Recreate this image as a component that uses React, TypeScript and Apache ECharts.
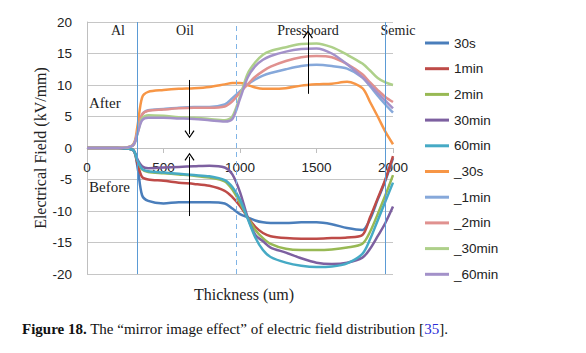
import React, { useEffect, useRef } from "react";
import * as echarts from "echarts";

const thickness = [0, 200, 300, 330, 360, 400, 500, 600, 700, 800, 900, 950, 1000, 1050, 1100, 1150, 1200, 1300, 1400, 1500, 1600, 1700, 1800, 1850, 1900, 1950, 2000];

const seriesNames = ["30s", "1min", "2min", "30min", "60min", "_30s", "_1min", "_2min", "_30min", "_60min"];

const before30s = [0, 0, -0.3, -3.0, -7.5, -8.4, -8.8, -8.6, -8.6, -8.6, -8.8, -9.6, -10.5, -11.0, -11.5, -11.8, -11.9, -11.9, -11.8, -11.8, -12.1, -12.7, -13.0, -11.3, -8.2, -5.2, -1.6];
const before1min = [0, 0, -0.3, -2.5, -4.6, -5.0, -5.2, -5.5, -5.7, -6.0, -6.8, -7.8, -9.2, -11.0, -12.5, -13.5, -14.0, -14.3, -14.4, -14.4, -14.3, -14.2, -13.8, -11.0, -8.0, -5.0, -1.3];
const before2min = [0, 0, -0.3, -2.0, -3.4, -3.8, -4.0, -4.2, -4.4, -4.7, -5.3, -6.6, -8.7, -11.0, -13.0, -14.3, -15.2, -16.0, -16.2, -16.2, -16.1, -15.8, -15.2, -13.3, -10.5, -7.5, -4.3];
const before30min = [0, 0, -0.3, -1.8, -2.9, -3.2, -3.1, -3.0, -2.9, -2.8, -3.1, -4.2, -7.0, -11.0, -13.8, -14.8, -15.8, -16.6, -17.5, -18.2, -18.4, -18.2, -17.4, -16.0, -14.0, -11.9, -9.3];
const before60min = [0, 0, -0.3, -2.0, -3.3, -3.7, -3.9, -4.1, -4.3, -4.5, -5.1, -6.2, -8.2, -11.2, -14.2, -16.2, -17.3, -18.2, -18.7, -18.9, -18.8, -18.3, -16.8, -14.5, -11.5, -8.5, -5.5];

const after30s = [0, 0, 0.5, 3.5, 8.0, 8.9, 9.2, 9.4, 9.5, 9.7, 10.1, 10.3, 10.3, 10.0, 9.6, 9.4, 9.4, 9.5, 9.9, 10.1, 10.2, 10.5, 9.5, 7.3, 5.0, 2.6, 0.6];
const after1min = [0, 0, 0.4, 2.5, 5.3, 6.0, 6.2, 6.4, 6.5, 6.5, 6.9, 7.9, 9.0, 10.1, 10.9, 11.5, 11.9, 12.5, 13.0, 13.2, 13.0, 12.6, 11.2, 9.8, 8.3, 6.9, 5.6];
const after2min = [0, 0, 0.4, 2.5, 5.3, 5.9, 6.1, 6.3, 6.4, 6.4, 6.6, 7.4, 8.8, 10.1, 11.3, 12.2, 12.9, 13.8, 14.4, 14.6, 14.4, 13.3, 11.7, 10.4, 9.2, 8.1, 7.3];
const after30min = [0, 0, 0.4, 2.3, 4.7, 5.2, 5.1, 4.9, 4.8, 4.6, 4.4, 5.0, 8.2, 11.8, 13.6, 14.8, 15.4, 16.0, 16.5, 16.6, 16.0, 14.8, 13.4, 12.3, 11.1, 10.4, 10.0];
const after60min = [0, 0, 0.4, 2.3, 4.4, 4.8, 4.8, 4.7, 4.6, 4.4, 4.2, 4.6, 7.8, 11.2, 13.0, 14.0, 14.6, 15.3, 15.7, 15.8, 15.0, 13.3, 11.2, 10.0, 8.7, 7.5, 6.3];

const seriesValues = [before30s, before1min, before2min, before30min, before60min, after30s, after1min, after2min, after30min, after60min];
const seriesColors = ["#4A7EBB", "#BE4B48", "#98B954", "#7D60A0", "#46AAC5", "#F79646", "#86A8DA", "#E0918F", "#AED08A", "#A391C9"];

const xTicks = [0, 500, 1000, 1500, 2000];
const yTicks = [-20, -15, -10, -5, 0, 5, 10, 15, 20];

// layer boundaries (thickness, um)
const boundaryAlOil = 327;
const boundaryOilPb = 975;
const boundarySemic = 1950;

// arrows: [x, yStart, yEnd]
const arrows = [
  [670, 10.8, 2.2],
  [670, -10.8, -1.4],
  [1444, 8.6, 18.0],
  [1457, -9.5, -20.2],
];

const serif = '"Liberation Serif", "Times New Roman", serif';
const sans = '"Liberation Sans", Arial, sans-serif';
const chevron = "path://M5,0 L10,7 L9,7.8 L5,1.8 L1,7.8 L0,7 Z";

export default function App() {
  const ref = useRef<HTMLDivElement>(null);
  useEffect(() => {
    if (!ref.current) return;
    const chart = echarts.init(ref.current, undefined, { renderer: "svg" });
    const blue = "#5B9BD5";
    const markData: any[] = [
      { xAxis: boundaryAlOil, lineStyle: { color: blue, width: 1, type: "solid" } },
      { xAxis: boundaryOilPb, lineStyle: { color: "#7FB4E6", width: 1, type: [5, 4] } },
      { xAxis: boundarySemic, lineStyle: { color: blue, width: 1, type: "solid" } },
      ...arrows.map(([x, y0, y1]) => [
        { coord: [x, y0], symbol: "none", lineStyle: { color: "#000", width: 1, type: "solid" } },
        { coord: [x, y1], symbol: chevron, symbolSize: [10, 8], lineStyle: { color: "#000", width: 1, type: "solid" } },
      ]),
    ];
    const series: any[] = seriesNames.map((name, i) => ({
      name,
      type: "line",
      data: thickness.map((t, j) => [t, seriesValues[i][j]]),
      smooth: 0.3,
      symbol: "none",
      lineStyle: { color: seriesColors[i], width: 2.5 },
      itemStyle: { color: seriesColors[i] },
      z: 2 + i,
    }));
    series[0].markLine = {
      silent: true,
      animation: false,
      symbol: ["none", "none"],
      label: { show: false },
      emphasis: { disabled: true },
      data: markData,
      z: 20,
    };
    const plotHeight = 353 - 22 - 79;
    chart.setOption({
      animation: false,
      backgroundColor: "#fff",
      grid: { left: 87, right: 193, top: 22, bottom: 79, containLabel: false },
      xAxis: {
        type: "value",
        position: "bottom",
        offset: -plotHeight / 2,
        min: xTicks[0],
        max: xTicks[xTicks.length - 1],
        interval: 500,
        axisLine: { show: true, onZero: false, lineStyle: { color: "#BFBFBF", width: 1 } },
        axisTick: { show: true, length: 5, lineStyle: { color: "#BFBFBF" } },
        axisLabel: {
          margin: 12,
          fontSize: 13.5,
          fontFamily: sans,
          color: "#222",
          showMaxLabel: true,
          showMinLabel: true,
          formatter: (v: number) => String(v),
        },
        splitLine: { show: false },
      },
      yAxis: {
        type: "value",
        min: yTicks[0],
        max: yTicks[yTicks.length - 1],
        interval: 5,
        axisLine: { show: true, onZero: false, lineStyle: { color: "#BFBFBF", width: 1 } },
        axisTick: { show: false },
        axisLabel: { margin: 15, fontSize: 13.5, fontFamily: sans, color: "#222" },
        splitLine: { show: true, lineStyle: { color: "#C6C6C6", width: 1 } },
      },
      legend: {
        data: seriesNames,
        orient: "vertical",
        left: 425,
        top: 36,
        padding: 0,
        itemWidth: 24,
        itemHeight: 3,
        itemGap: 11.7,
        icon: "rect",
        textStyle: { fontSize: 13.5, fontFamily: sans, color: "#222" },
      },
      graphic: [
        { type: "text", x: 118, y: 30, style: { text: "Al", fontSize: 14, fontFamily: serif, fill: "#222", align: "center", verticalAlign: "middle", textAlign: "center", textVerticalAlign: "middle" } },
        { type: "text", x: 185, y: 30, style: { text: "Oil", fontSize: 14, fontFamily: serif, fill: "#222", align: "center", verticalAlign: "middle", textAlign: "center", textVerticalAlign: "middle" } },
        { type: "text", x: 308, y: 30, style: { text: "Pressboard", fontSize: 14, fontFamily: serif, fill: "#222", align: "center", verticalAlign: "middle", textAlign: "center", textVerticalAlign: "middle" } },
        { type: "text", x: 398, y: 30, style: { text: "Semic", fontSize: 14, fontFamily: serif, fill: "#222", align: "center", verticalAlign: "middle", textAlign: "center", textVerticalAlign: "middle" } },
        { type: "text", x: 89, y: 103, style: { text: "After", fontSize: 15, fontFamily: serif, fill: "#222", align: "left", verticalAlign: "middle", textAlign: "left", textVerticalAlign: "middle" } },
        { type: "text", x: 89, y: 187, style: { text: "Before", fontSize: 15, fontFamily: serif, fill: "#222", align: "left", verticalAlign: "middle", textAlign: "left", textVerticalAlign: "middle" } },
        { type: "text", x: 244, y: 294, style: { text: "Thickness (um)", fontSize: 16, fontFamily: serif, fill: "#222", align: "center", verticalAlign: "middle", textAlign: "center", textVerticalAlign: "middle" } },
        { type: "text", x: 40, y: 148, rotation: Math.PI / 2, style: { text: "Electrical Field (kV/mm)", fontSize: 16, fontFamily: serif, fill: "#222", align: "center", verticalAlign: "middle", textAlign: "center", textVerticalAlign: "middle" } },
        {
          type: "text",
          x: 22,
          y: 329,
          style: {
            text: "{b|Figure 18.} The “mirror image effect” of electric field distribution [{l|35}].",
            fontSize: 15,
            fontFamily: serif,
            fill: "#111",
            align: "left",
            verticalAlign: "middle",
            textAlign: "left",
            textVerticalAlign: "middle",
            rich: {
              b: { fontWeight: "bold", fontSize: 15, fontFamily: serif, fill: "#111" },
              l: { fontSize: 15, fontFamily: serif, fill: "#2C2CD8" },
            },
          },
        },
      ],
      series,
    });
    return () => chart.dispose();
  }, []);
  return <div ref={ref} style={{ position: "fixed", left: 0, top: 0, width: 586, height: 353 }} />;
}
